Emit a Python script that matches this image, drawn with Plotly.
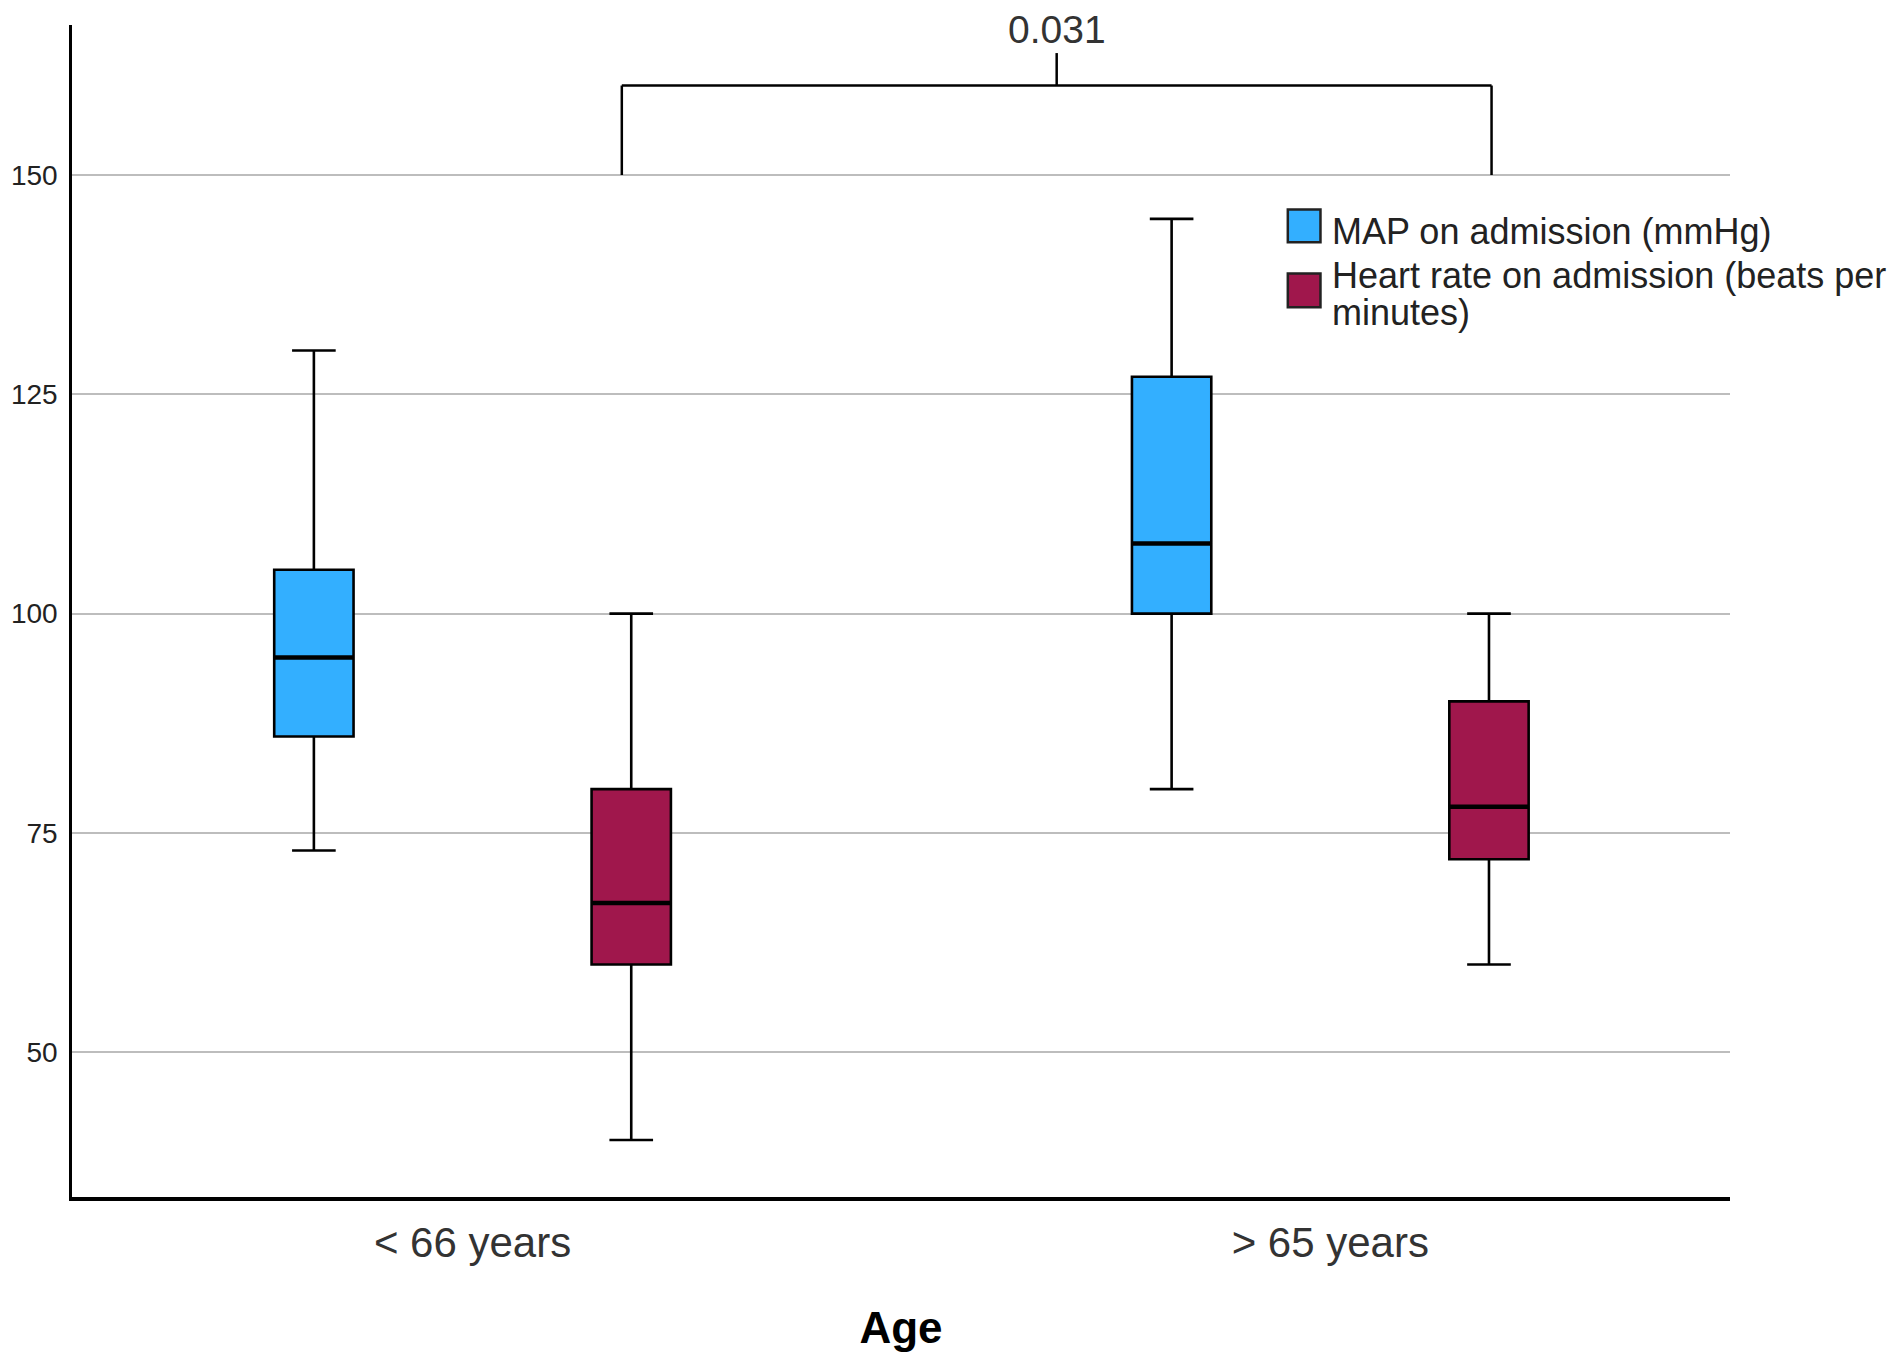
import plotly.graph_objects as go

categories = ["< 66 years", "> 65 years"]
series_names = ["MAP on admission (mmHg)", "Heart rate on admission (beats per", "minutes)"]

map_lower = [73, 80]
map_q1 = [86, 100]
map_median = [95, 108]
map_q3 = [105, 127]
map_upper = [130, 145]

hr_lower = [40, 60]
hr_q1 = [60, 72]
hr_median = [67, 78]
hr_q3 = [80, 90]
hr_upper = [100, 100]

p_value_text = "0.031"
y_ticks = [50, 75, 100, 125, 150]

FONT = "Liberation Sans, Arial, sans-serif"
BLUE = "#33AFFF"
MAROON = "#A0174C"
colors = [BLUE, MAROON]

BOXGAP = 0.26
BOXGROUPGAP = 0.75

fig = go.Figure()
series = [
    (map_lower, map_q1, map_median, map_q3, map_upper),
    (hr_lower, hr_q1, hr_median, hr_q3, hr_upper),
]
trace_names = ["MAP on admission (mmHg)", "Heart rate on admission (beats per minutes)"]
for s, (lo, q1, med, q3, up) in enumerate(series):
    fig.add_trace(go.Box(
        name=trace_names[s], x=categories,
        q1=q1, median=med, q3=q3, lowerfence=lo, upperfence=up,
        fillcolor=colors[s], line=dict(color="black", width=2.6),
        whiskerwidth=0.55, boxpoints=False, showlegend=False,
    ))

# thicker median lines, positioned from the grouped-box geometry
group_w = 1 - BOXGAP
half_box = group_w / 2 * (1 - BOXGROUPGAP) / 2
for s, (lo, q1, med, q3, up) in enumerate(series):
    off = (s - 0.5) * group_w / 2
    for i, m in enumerate(med):
        fig.add_shape(type="line", xref="x", yref="y",
                      x0=i + off - half_box, x1=i + off + half_box, y0=m, y1=m,
                      line=dict(color="black", width=4.5))

# significance bracket between the heart-rate boxes
bx0, bx1 = 0.174, 1.188
by0, by1, by2 = 150, 160.2, 163.9
bx_mid = (bx0 + bx1) / 2
bline = dict(color="black", width=2.5)
fig.add_shape(type="line", xref="x", yref="y", x0=bx0, x1=bx0, y0=by0, y1=by1, line=bline)
fig.add_shape(type="line", xref="x", yref="y", x0=bx1, x1=bx1, y0=by0, y1=by1, line=bline)
fig.add_shape(type="line", xref="x", yref="y", x0=bx0, x1=bx1, y0=by1, y1=by1, line=bline)
fig.add_shape(type="line", xref="x", yref="y", x0=bx_mid, x1=bx_mid, y0=by1, y1=by2, line=bline)
fig.add_annotation(x=bx_mid, y=by2, xref="x", yref="y", text=p_value_text,
                   showarrow=False, yanchor="bottom", yshift=0,
                   font=dict(family=FONT, size=39, color="#333"))

# legend (square swatches with black border)
sw_x0, sw_x1 = 0.7333, 0.7530
sw_y = [(0.8147, 0.8426), (0.7591, 0.7879)]
for s in range(2):
    fig.add_shape(type="rect", xref="paper", yref="paper",
                  x0=sw_x0, x1=sw_x1, y0=sw_y[s][0], y1=sw_y[s][1],
                  fillcolor=colors[s], line=dict(color="#222", width=2.5))
txt_x = 0.7587
txt_y = [0.824, 0.7865, 0.7545]
for k, t in enumerate(series_names):
    fig.add_annotation(x=txt_x, y=txt_y[k], xref="paper", yref="paper", text=t,
                       showarrow=False, xanchor="left", yanchor="middle",
                       font=dict(family=FONT, size=36, color="#222"))

fig.update_layout(
    width=1897, height=1367,
    margin=dict(l=64, r=175, t=17, b=178),
    paper_bgcolor="white", plot_bgcolor="white",
    boxmode="group", boxgap=BOXGAP, boxgroupgap=BOXGROUPGAP,
    font=dict(family=FONT, color="#222"),
    showlegend=False,
    xaxis=dict(
        type="category", range=[-0.467, 1.466],
        showline=True, linecolor="black", linewidth=4,
        showgrid=False, zeroline=False,
        ticks="outside", ticklen=6, tickcolor="rgba(0,0,0,0)",
        tickfont=dict(family=FONT, size=42, color="#333"),
        title=dict(text="<b>Age</b>", font=dict(family=FONT, size=44, color="black"), standoff=48),
    ),
    yaxis=dict(
        range=[33.5, 167.1], tickvals=y_ticks, automargin=False,
        showline=True, linecolor="black", linewidth=2.5,
        showgrid=True, gridcolor="#BDBDBD", gridwidth=2,
        zeroline=False,
        ticks="outside", ticklen=6, tickcolor="rgba(0,0,0,0)",
        tickfont=dict(family=FONT, size=28, color="#222"),
    ),
)

fig.write_html("out.html")
